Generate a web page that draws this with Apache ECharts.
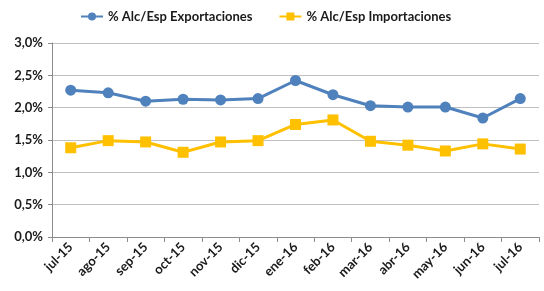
<!DOCTYPE html>
<html lang="es">
<head>
<meta charset="UTF-8">
<title>Alc/Esp</title>
<script src="https://cdn.jsdelivr.net/npm/echarts@6/dist/echarts.min.js"></script>
<style>
  html, body { margin: 0; padding: 0; background: #fff; }
  #chart { width: 544px; height: 291px; }
</style>
</head>
<body>
<div id="chart"></div>
<script>
const meses = ['jul-15', 'ago-15', 'sep-15', 'oct-15', 'nov-15', 'dic-15', 'ene-16',
  'feb-16', 'mar-16', 'abr-16', 'may-16', 'jun-16', 'jul-16'];
const exportaciones = [2.27, 2.23, 2.10, 2.13, 2.12, 2.14, 2.42, 2.20, 2.03, 2.01, 2.01, 1.84, 2.14];
const importaciones = [1.38, 1.49, 1.47, 1.31, 1.47, 1.49, 1.74, 1.81, 1.48, 1.42, 1.33, 1.44, 1.36];

const fuente = 'Lato, "Open Sans", sans-serif';

const chart = echarts.init(document.getElementById('chart'));
chart.setOption({
  animation: false,
  textStyle: { fontFamily: fuente },
  legend: {
    top: 5,
    left: 75,
    itemGap: 26,
    itemWidth: 22,
    itemHeight: 10,
    textStyle: { fontFamily: fuente, fontWeight: 'bold', fontSize: 13, color: '#1a1a1a' },
    data: ['% Alc/Esp Exportaciones', '% Alc/Esp Importaciones']
  },
  grid: { left: 52, right: 5, top: 43, bottom: 54 },
  xAxis: {
    type: 'category',
    data: meses,
    boundaryGap: true,
    axisLine: { lineStyle: { color: '#8c8c8c', width: 1 } },
    axisTick: { show: true, alignWithLabel: false, length: 5, lineStyle: { color: '#8c8c8c' } },
    axisLabel: {
      rotate: 45,
      interval: 0,
      margin: 8,
      fontFamily: fuente,
      fontWeight: 'bold',
      fontSize: 13,
      color: '#1a1a1a'
    }
  },
  yAxis: {
    type: 'value',
    min: 0,
    max: 3,
    interval: 0.5,
    axisLine: { show: true, lineStyle: { color: '#8c8c8c', width: 1 } },
    axisTick: { show: true, length: 4, lineStyle: { color: '#8c8c8c' } },
    splitLine: { lineStyle: { color: '#bfbfbf', width: 1 } },
    axisLabel: {
      margin: 9,
      fontFamily: fuente,
      fontWeight: 'bold',
      fontSize: 13,
      color: '#1a1a1a',
      formatter: v => v.toFixed(1).replace('.', ',') + '%'
    }
  },
  series: [
    {
      name: '% Alc/Esp Exportaciones',
      type: 'line',
      data: exportaciones,
      symbol: 'circle',
      symbolSize: 11,
      lineStyle: { color: '#4F81BD', width: 3 },
      itemStyle: { color: '#4F81BD' }
    },
    {
      name: '% Alc/Esp Importaciones',
      type: 'line',
      data: importaciones,
      symbol: 'rect',
      symbolSize: 11,
      lineStyle: { color: '#FFC000', width: 3 },
      itemStyle: { color: '#FFC000' }
    }
  ]
});
</script>
</body>
</html>
